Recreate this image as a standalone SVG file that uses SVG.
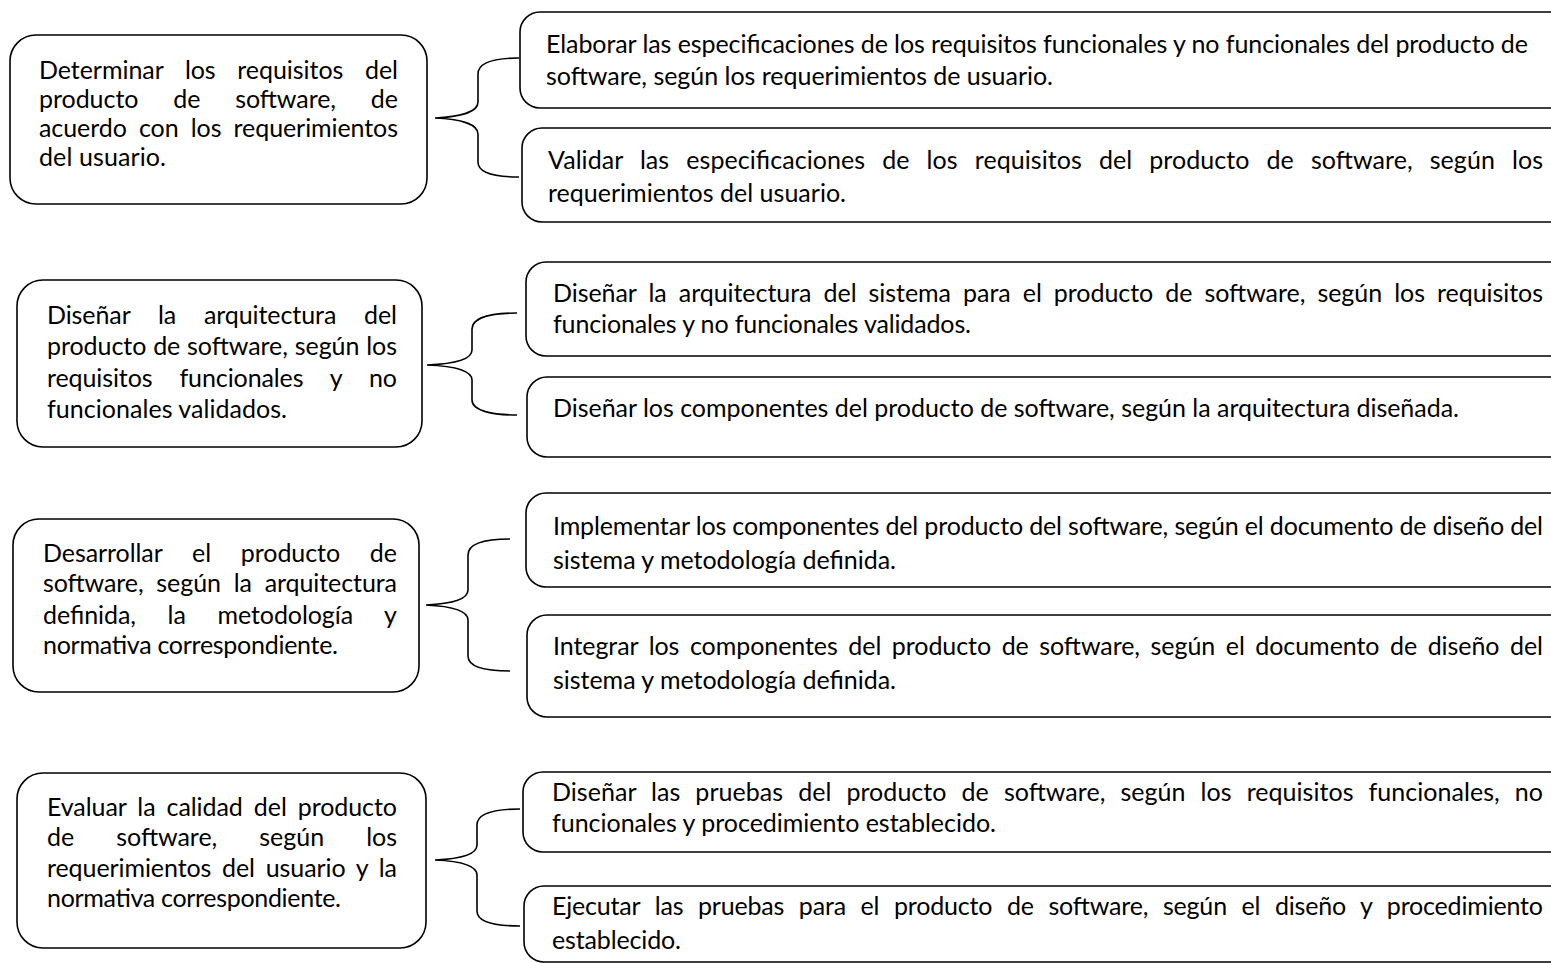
<svg xmlns="http://www.w3.org/2000/svg" width="1551" height="963" viewBox="0 0 1551 963">
<style>
.box{fill:#fff;stroke:#000;stroke-width:1.6}
.br{fill:none;stroke:#000;stroke-width:1.6}
text{font-family:Lato,"Liberation Sans",sans-serif;font-size:25px;fill:#000}
</style>
<rect width="1551" height="963" fill="#fff"/>
<g id="connectors">
<path class="br" d="M519,58 C495,58 478,62 478,74 L478,102 C478,112 460,117 435,118 C460,119 478,124 478,134 L478,162 C478,173 495,177 519,177"/>
<path class="br" d="M517,313 C493,313 472,317 472,329 L472,350 C472,360 452,364 427,365 C452,366 472,370 472,380 L472,400 C472,411 493,415 517,415"/>
<path class="br" d="M510,539 C486,539 468,543 468,555 L468,590 C468,600 448,604 426,605 C448,606 468,610 468,620 L468,656 C468,667 486,671 510,671"/>
<path class="br" d="M520,809 C496,809 477,813 477,825 L477,845 C477,855 458,859 435,860 C458,861 477,865 477,875 L477,911 C477,922 496,926 520,926"/>
</g>
<g id="node-l1"><rect class="box" x="10" y="35" width="417" height="169" rx="26"/>
<text x="39" y="79" word-spacing="15.3" textLength="359">Determinar los requisitos del</text>
<text x="39" y="108" word-spacing="28.5" textLength="359">producto de software, de</text>
<text x="39" y="137" word-spacing="5.9" textLength="359">acuerdo con los requerimientos</text>
<text x="39" y="166" textLength="127">del usuario.</text></g>
<g id="node-r1a"><rect class="box" x="520" y="12" width="1060" height="96" rx="20"/>
<text x="546" y="53" textLength="982">Elaborar las especificaciones de los requisitos funcionales y no funcionales del producto de</text>
<text x="546" y="85" textLength="507">software, según los requerimientos de usuario.</text></g>
<g id="node-r1b"><rect class="box" x="522" y="128" width="1060" height="94" rx="20"/>
<text x="548" y="169" word-spacing="10.6" textLength="995">Validar las especificaciones de los requisitos del producto de software, según los</text>
<text x="548" y="202" textLength="298">requerimientos del usuario.</text></g>

<g id="node-l2"><rect class="box" x="17" y="280" width="405" height="167" rx="26"/>
<text x="47" y="324" word-spacing="21.4" textLength="350">Diseñar la arquitectura del</text>
<text x="47" y="355" word-spacing="0.5" textLength="350">producto de software, según los</text>
<text x="47" y="387" word-spacing="20.7" textLength="350">requisitos funcionales y no</text>
<text x="47" y="418" textLength="240">funcionales validados.</text></g>
<g id="node-r2a"><rect class="box" x="526" y="262" width="1060" height="94" rx="20"/>
<text x="553" y="302" word-spacing="5.8" textLength="990">Diseñar la arquitectura del sistema para el producto de software, según los requisitos</text>
<text x="553" y="333" textLength="418">funcionales y no funcionales validados.</text></g>
<g id="node-r2b"><rect class="box" x="527" y="377" width="1060" height="80" rx="20"/>
<text x="553" y="417" textLength="906">Diseñar los componentes del producto de software, según la arquitectura diseñada.</text></g>

<g id="node-l3"><rect class="box" x="13" y="519" width="406" height="173" rx="26"/>
<text x="43" y="562" word-spacing="23.5" textLength="354">Desarrollar el producto de</text>
<text x="43" y="592" word-spacing="6.5" textLength="354">software, según la arquitectura</text>
<text x="43" y="624" word-spacing="25.3" textLength="354">definida, la metodología y</text>
<text x="43" y="654" textLength="295">normativa correspondiente.</text></g>
<g id="node-r3a"><rect class="box" x="526" y="493" width="1060" height="94" rx="20"/>
<text x="553" y="535" textLength="990">Implementar los componentes del producto del software, según el documento de diseño del</text>
<text x="553" y="569" textLength="343">sistema y metodología definida.</text></g>
<g id="node-r3b"><rect class="box" x="527" y="615" width="1060" height="102" rx="20"/>
<text x="553" y="655" word-spacing="4.25" textLength="990">Integrar los componentes del producto de software, según el documento de diseño del</text>
<text x="553" y="689" textLength="343">sistema y metodología definida.</text></g>

<g id="node-l4"><rect class="box" x="17" y="773" width="409" height="175" rx="26"/>
<text x="47" y="816" word-spacing="4.75" textLength="350">Evaluar la calidad del producto</text>
<text x="47" y="846" word-spacing="35.7" textLength="350">de software, según los</text>
<text x="47" y="877" word-spacing="4.5" textLength="350">requerimientos del usuario y la</text>
<text x="47" y="907" textLength="294">normativa correspondiente.</text></g>
<g id="node-r4a"><rect class="box" x="523" y="772" width="1060" height="80" rx="20"/>
<text x="552" y="801" word-spacing="8.6" textLength="991">Diseñar las pruebas del producto de software, según los requisitos funcionales, no</text>
<text x="552" y="832" textLength="444">funcionales y procedimiento establecido.</text></g>
<g id="node-r4b"><rect class="box" x="524" y="886" width="1060" height="76" rx="20"/>
<text x="552" y="915" word-spacing="8.45" textLength="991">Ejecutar las pruebas para el producto de software, según el diseño y procedimiento</text>
<text x="552" y="949" textLength="129">establecido.</text></g>
</svg>
